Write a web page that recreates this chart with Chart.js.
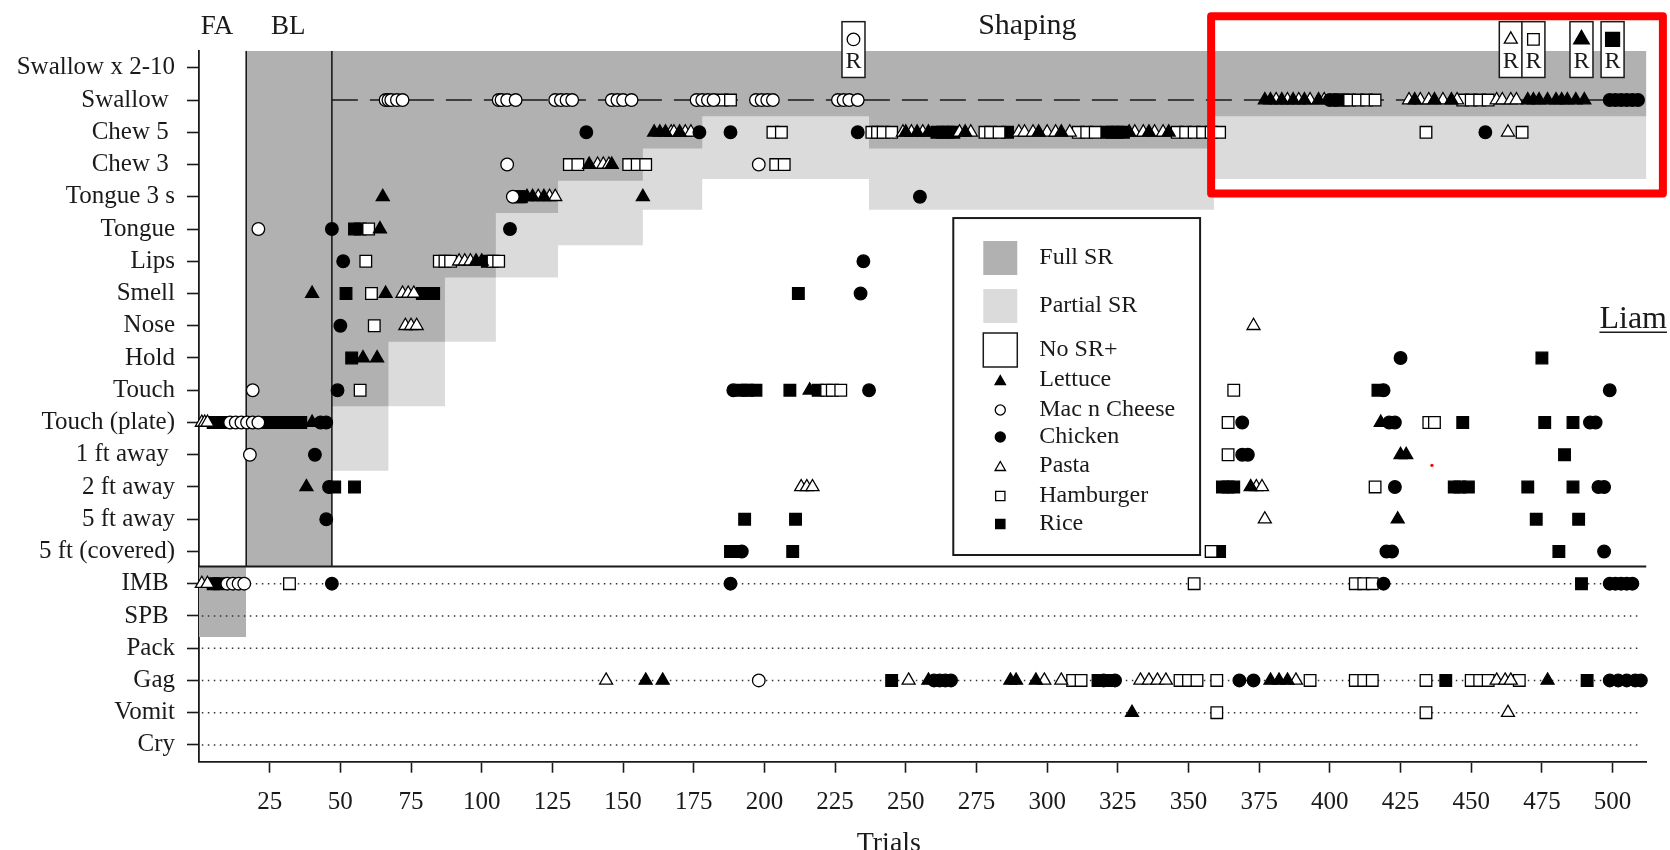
<!DOCTYPE html>
<html><head><meta charset="utf-8">
<script src="https://cdn.jsdelivr.net/npm/chart.js@4/dist/chart.umd.min.js"></script>
<style>html,body{margin:0;padding:0;background:#fff;}</style>
</head><body>
<canvas id="c" width="1670" height="850"></canvas>
<script>
// ---------------- DATA ----------------
const rowNames = ["Swallow x 2-10","Swallow","Chew 5","Chew 3","Tongue 3 s","Tongue","Lips","Smell","Nose","Hold","Touch","Touch (plate)","1 ft away","2 ft away","5 ft away","5 ft (covered)","IMB","SPB","Pack","Gag","Vomit","Cry"];
const rowTickLabels = ["Swallow x 2-10","Swallow ","Chew 5 ","Chew 3 ","Tongue 3 s","Tongue","Lips","Smell","Nose","Hold","Touch","Touch (plate)","1 ft away ","2 ft away","5 ft away","5 ft (covered)","IMB ","SPB ","Pack","Gag","Vomit","Cry"];
const xTickValues = [25,50,75,100,125,150,175,200,225,250,275,300,325,350,375,400,425,450,475,500];
const dottedRows = ["IMB","SPB","Pack","Gag","Vomit","Cry"];

const lettuceTrials = {
  "Swallow": [377,379,383,387,391,396,430,437,443,470,472,474,477,480,482,484,487,490],
  "Chew 5": [161,163,165,170,250,254,258,271,297,305,329,336,343],
  "Chew 3": [138,146],
  "Tongue 3 s": [65,116,118,122,157],
  "Tongue": [64],
  "Lips": [98,100],
  "Smell": [40,66],
  "Hold": [58,63],
  "Touch": [216],
  "Touch (plate)": [40,418],
  "1 ft away": [425,427],
  "2 ft away": [38,372],
  "5 ft away": [424],
  "Gag": [158,164,258,287,289,296,379,382,385,477],
  "Vomit": [330]
};
const macTrials = {
  "Swallow": [66,67,68,70,72,106,107,109,112,126,128,130,132,146,148,150,153,176,178,180,182,197,199,201,203,226,228,230,233],
  "Chew 3": [109,198],
  "Tongue 3 s": [111],
  "Tongue": [21],
  "Touch": [19],
  "Touch (plate)": [11,13,15,17,19,21],
  "1 ft away": [18],
  "IMB": [10,12,14,16],
  "Gag": [198]
};
const chickenTrials = {
  "Swallow": [400,402,499,501,503,505,507,509],
  "Chew 5": [137,177,188,233,455],
  "Tongue 3 s": [255],
  "Tongue": [47,110],
  "Lips": [51,235],
  "Smell": [234],
  "Nose": [50],
  "Hold": [425],
  "Touch": [49,189,237,419,499],
  "Touch (plate)": [43,45,369,421,423,492,494],
  "1 ft away": [41,369,371],
  "2 ft away": [46,423,495,497],
  "5 ft away": [45],
  "5 ft (covered)": [192,420,422,497],
  "IMB": [47,188,419,499,501,503,505,507],
  "Gag": [260,262,264,266,320,324,368,373,499,502,505,508,510]
};
const pastaTrials = {
  "Swallow": [381,385,389,393,398,428,432,435,440,445,459,461,464,466],
  "Chew 5": [167,168,172,174,249,252,256,269,273,290,292,295,300,303,308,331,334,338,341,463],
  "Chew 3": [141,143,145],
  "Tongue 3 s": [120,124,126],
  "Lips": [92,94,96],
  "Smell": [72,74,76],
  "Nose": [73,75,77,373],
  "Touch (plate)": [1,2,3],
  "2 ft away": [213,215,217,374,376],
  "5 ft away": [377],
  "IMB": [1,3],
  "Gag": [144,251,299,305,333,336,339,342,388,459,462,464],
  "Vomit": [463]
};
const hamburgerTrials = {
  "Swallow": [185,188,407,410,413,416,447,450,453,456],
  "Chew 5": [203,206,238,240,242,245,278,280,283,311,314,317,346,349,352,355,358,361,434,468],
  "Chew 3": [131,134,152,155,158,204,207],
  "Tongue": [60],
  "Lips": [59,85,87,89,104,106],
  "Smell": [61],
  "Nose": [62],
  "Touch": [57,222,224,227,366],
  "Touch (plate)": [364,435,437],
  "1 ft away": [364],
  "2 ft away": [416],
  "5 ft (covered)": [358],
  "IMB": [32,352,409,412,415],
  "Gag": [309,312,347,350,353,360,393,409,412,415,434,450,453,456,467],
  "Vomit": [360,434]
};
const riceTrials = {
  "Swallow": [403,405],
  "Chew 5": [261,263,265,267,286,321,323,325,327],
  "Tongue 3 s": [113,114],
  "Tongue": [55,57],
  "Lips": [102],
  "Smell": [52,79,81,83,212],
  "Hold": [54,475],
  "Touch": [192,194,197,209,219,417],
  "Touch (plate)": [5,7,9,24,26,28,30,32,34,36,447,476,486],
  "1 ft away": [483],
  "2 ft away": [48,55,362,364,366,444,446,449,470,486],
  "5 ft away": [193,211,473,488],
  "5 ft (covered)": [188,190,210,361,481],
  "IMB": [5,7,489],
  "Gag": [245,318,322,441,491]
};

// phase shading (trial where step starts, lower row boundary)
const fullSRSteps = [[16.7,15.47],[47,10.5],[67,8.5],[87,6.5],[105,4.5],[127,3.5],[157,2.5],[178,1.5],[237,2.5],[359,1.5],[512,1.5]];
const partialSRSteps = [[47,12.5],[67,10.5],[87,8.5],[105,6.5],[127,5.5],[157,4.4],[178,3.45],[237,4.4],[359,3.45],[512,3.45]];
const faBlockSteps = [[0,17.65],[16.7,17.65]];
const phaseLines = [16.7, 47];
const swallowLine = [47, 511];
const rBoxTrials = [231.5, 464, 472, 489, 500];
const rBoxFoods = ["mac","pasta","hamburger","lettuce","rice"];
const highlightTrials = [358, 517.8];
const highlightRows = [-1.6, 3.9];

// ---------------- STYLE ----------------
const X_MIN = 0, X_MAX = 512, Y_TOP = -0.53, Y_BOTTOM = 21.52, SEP = 15.47;
const DARK = '#b1b1b1', LIGHT = '#dbdbdb', INK = '#1a1a1a';
const SERIF = '"Liberation Serif", "Times New Roman", serif';
const foods = {
  lettuce:   {name:'Lettuce', data: lettuceTrials, style:'triangle', fill:'#000', r:7.5},
  mac:       {name:'Mac n Cheese', data: macTrials, style:'circle', fill:'#fff', r:6.3},
  chicken:   {name:'Chicken', data: chickenTrials, style:'circle', fill:'#000', r:6.3},
  pasta:     {name:'Pasta', data: pastaTrials, style:'triangle', fill:'#fff', r:7.5},
  hamburger: {name:'Hamburger', data: hamburgerTrials, style:'rect', fill:'#fff', r:8.2},
  rice:      {name:'Rice', data: riceTrials, style:'rect', fill:'#000', r:8.2}
};
const legendOrder = ['lettuce','mac','chicken','pasta','hamburger','rice'];

function toPoints(obj){
  const pts = [];
  for (const [row, trials] of Object.entries(obj)) {
    const yi = rowNames.indexOf(row);
    trials.forEach(t => pts.push({x:t, y:yi}));
  }
  return pts;
}

const datasets = [];
datasets.push({type:'line', data: partialSRSteps.map(([x,y])=>({x,y})), stepped:'before', borderWidth:0, pointRadius:0, fill:{value:Y_TOP}, backgroundColor:LIGHT, order:6});
datasets.push({type:'line', data: fullSRSteps.map(([x,y])=>({x,y})), stepped:'before', borderWidth:0, pointRadius:0, fill:{value:Y_TOP}, backgroundColor:DARK, order:5});
datasets.push({type:'line', data: faBlockSteps.map(([x,y])=>({x,y})), stepped:'before', borderWidth:0, pointRadius:0, fill:{value:SEP}, backgroundColor:DARK, order:5});
phaseLines.forEach(px => datasets.push({type:'line', data:[{x:px,y:Y_TOP},{x:px,y:SEP}], borderColor:INK, borderWidth:1.6, pointRadius:0, fill:false, order:3}));
datasets.push({type:'line', data:[{x:X_MIN,y:SEP},{x:X_MAX,y:SEP}], borderColor:INK, borderWidth:2, pointRadius:0, fill:false, order:3});
datasets.push({type:'line', data:[{x:swallowLine[0],y:1},{x:swallowLine[1],y:1}], borderColor:INK, borderWidth:1.5, borderDash:[26,12], pointRadius:0, fill:false, order:3});
dottedRows.forEach(r => { const yi = rowNames.indexOf(r);
  datasets.push({type:'line', data:[{x:X_MIN+1,y:yi},{x:X_MAX-2,y:yi}], borderColor:'#333', borderWidth:1.5, borderDash:[1.5,4.5], pointRadius:0, fill:false, order:3}); });
legendOrder.forEach(k => { const f = foods[k];
  datasets.push({type:'scatter', label:f.name, data: toPoints(f.data), showLine:false, pointStyle:f.style, pointRadius:f.r, backgroundColor:f.fill, borderColor:'#000', borderWidth:1.3, clip:false, order:1});
});

function marker(ctx, style, fill, r, x, y){
  ctx.save();
  ctx.fillStyle = fill; ctx.strokeStyle = '#000'; ctx.lineWidth = 1.3;
  ctx.beginPath();
  if (style === 'circle') ctx.arc(x, y, r, 0, Math.PI*2);
  else if (style === 'rect') { const s = r*Math.SQRT1_2; ctx.rect(x-s, y-s, 2*s, 2*s); }
  else { ctx.moveTo(x, y-r); ctx.lineTo(x + r*0.866, y + r/2); ctx.lineTo(x - r*0.866, y + r/2); ctx.closePath(); }
  ctx.fill(); ctx.stroke();
  ctx.restore();
}

const annotations = {
  id:'annotations',
  afterDatasetsDraw(chart){
    const {ctx} = chart; const xs = chart.scales.x, ys = chart.scales.y;
    const top = chart.chartArea.top;
    ctx.save();
    ctx.fillStyle = INK; ctx.textAlign = 'center'; ctx.textBaseline = 'middle';
    ctx.font = '27px ' + SERIF;
    ctx.fillText('FA', xs.getPixelForValue(6.4), top - 24);
    ctx.fillText('BL', xs.getPixelForValue(31.6), top - 24);
    ctx.font = '30px ' + SERIF;
    ctx.fillText('Shaping', xs.getPixelForValue(293), top - 25);
    // R boxes
    rBoxTrials.forEach((t,i) => {
      const cx = xs.getPixelForValue(t);
      const y0 = ys.getPixelForValue(-1.43), y1 = ys.getPixelForValue(0.3);
      ctx.fillStyle = '#fff'; ctx.strokeStyle = INK; ctx.lineWidth = 1.5;
      ctx.fillRect(cx-11.5, y0, 23, y1-y0); ctx.strokeRect(cx-11.5, y0, 23, y1-y0);
      const f = foods[rBoxFoods[i]];
      const big = (f.fill === '#000');
      marker(ctx, f.style, f.fill, big ? f.r*1.2 : f.r, cx, ys.getPixelForValue(-0.88));
      ctx.fillStyle = INK; ctx.font = '24px ' + SERIF; ctx.textAlign='center'; ctx.textBaseline='middle';
      ctx.fillText('R', cx, ys.getPixelForValue(-0.18));
    });
    // Liam
    ctx.fillStyle = INK; ctx.font = '32px ' + SERIF; ctx.textAlign = 'center'; ctx.textBaseline = 'middle';
    const lx = xs.getPixelForValue(507.3), ly = ys.getPixelForValue(7.8);
    ctx.fillText('Liam', lx, ly);
    const lw = ctx.measureText('Liam').width;
    ctx.strokeStyle = INK; ctx.lineWidth = 1.5; ctx.beginPath();
    ctx.moveTo(lx - lw/2, ly + 13); ctx.lineTo(lx + lw/2, ly + 13); ctx.stroke();
    // Trials
    ctx.font = '28px ' + SERIF;
    ctx.fillText('Trials', xs.getPixelForValue(244), 844);
    // Legend box
    const bx0 = xs.getPixelForValue(266.8), bx1 = xs.getPixelForValue(354.1);
    const by0 = ys.getPixelForValue(4.66), by1 = ys.getPixelForValue(15.11);
    ctx.fillStyle = '#fff'; ctx.fillRect(bx0, by0, bx1-bx0, by1-by0);
    ctx.strokeStyle = INK; ctx.lineWidth = 2; ctx.strokeRect(bx0, by0, bx1-bx0, by1-by0);
    const sx = bx0 + 30, labX = bx0 + 86;
    ctx.font = '24px ' + SERIF; ctx.textAlign = 'left'; ctx.textBaseline = 'middle';
    const sw = [[DARK,null,258,'Full SR'],[LIGHT,null,306,'Partial SR'],['#fff',INK,350,'No SR+']];
    sw.forEach(([c,b,yc,txt]) => {
      ctx.fillStyle = c; ctx.fillRect(sx, yc-17, 34, 34);
      if (b) { ctx.strokeStyle = b; ctx.lineWidth = 1.5; ctx.strokeRect(sx, yc-17, 34, 34); }
      ctx.fillStyle = INK; ctx.fillText(txt, labX, yc);
    });
    const ly0 = [380, 410, 437, 466, 496, 524];
    legendOrder.forEach((k,i) => {
      const f = foods[k];
      marker(ctx, f.style, f.fill, f.r*0.8, sx+17, ly0[i] + (f.style==='triangle'?1.5:0));
      ctx.fillStyle = INK; ctx.fillText(f.name, labX, ly0[i]);
    });
    ctx.restore();
  },
  afterDraw(chart){
    const {ctx} = chart; const xs = chart.scales.x, ys = chart.scales.y;
    ctx.save();
    // red highlight frame present in the reference picture
    const hx0 = xs.getPixelForValue(highlightTrials[0]), hx1 = xs.getPixelForValue(highlightTrials[1]);
    const hy0 = ys.getPixelForValue(highlightRows[0]), hy1 = ys.getPixelForValue(highlightRows[1]);
    ctx.strokeStyle = '#ff0000'; ctx.lineWidth = 8; ctx.lineJoin = 'round';
    ctx.strokeRect(hx0, hy0, hx1-hx0, hy1-hy0);
    ctx.fillStyle = '#ff0000';
    ctx.beginPath(); ctx.arc(xs.getPixelForValue(436.1), ys.getPixelForValue(12.33), 1.6, 0, Math.PI*2); ctx.fill();
    ctx.restore();
  }
};

new Chart(document.getElementById('c'), {
  type:'scatter',
  data:{datasets},
  options:{
    responsive:false, animation:false, events:[],
    layout:{padding:{top:50.7, right:23.5, left:0, bottom:0}},
    plugins:{legend:{display:false}, tooltip:{enabled:false}},
    scales:{
      x:{type:'linear', min:X_MIN, max:X_MAX,
        afterBuildTicks:(s)=>{ s.ticks = xTickValues.map(v=>({value:v})); },
        afterFit:(s)=>{ s.height = 88.3; },
        ticks:{font:{family:SERIF, size:25}, color:INK, padding:15, maxRotation:0, autoSkip:false, callback:(v)=>String(v)},
        grid:{display:true, drawOnChartArea:false, drawTicks:true, tickLength:11, tickWidth:1.6, tickColor:INK},
        border:{display:true, color:INK, width:1.8}},
      y:{type:'linear', min:Y_TOP, max:Y_BOTTOM, reverse:true,
        afterBuildTicks:(s)=>{ s.ticks = rowTickLabels.map((_,i)=>({value:i})); },
        afterFit:(s)=>{ s.width = 199; },
        ticks:{font:{family:SERIF, size:25}, color:INK, padding:12, autoSkip:false, callback:(v)=>rowTickLabels[v]},
        grid:{display:true, drawOnChartArea:false, drawTicks:true, tickLength:12, tickWidth:1.6, tickColor:INK},
        border:{display:true, color:INK, width:1.8}}
    }
  },
  plugins:[annotations]
});
</script>
</body></html>
